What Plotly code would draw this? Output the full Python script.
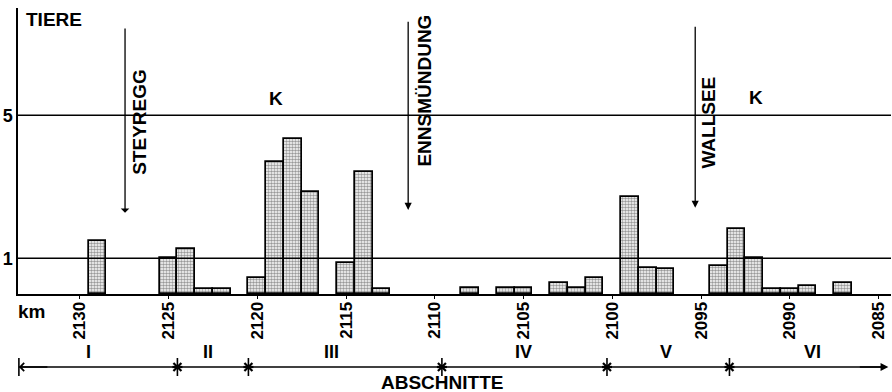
import plotly.graph_objects as go

# ---- data ----
km = [2129, 2125, 2124, 2123, 2122, 2120, 2119, 2118, 2117, 2115, 2114, 2113,
      2108, 2106, 2105, 2103, 2102, 2101, 2099, 2098, 2097, 2094, 2093, 2092,
      2091, 2090, 2089, 2087]
tiere = [1.47, 1.0, 1.25, 0.13, 0.13, 0.46, 3.69, 4.34, 2.85, 0.88, 3.41, 0.15,
         0.18, 0.18, 0.18, 0.32, 0.18, 0.46, 2.71, 0.74, 0.69, 0.77, 1.81, 1.0,
         0.15, 0.15, 0.21, 0.32]
km_ticks = [2130, 2125, 2120, 2115, 2110, 2105, 2100, 2095, 2090, 2085]
y_ticks = [1, 5]
# places: (name, km, arrow top, arrow tip, label centre km, label centre y, head)
places = [("STEYREGG", 2127.45, 7.47, 2.27, 2126.6, 4.82, 1),
          ("ENNSMÜNDUNG", 2111.5, 7.66, 2.35, 2110.55, 5.69, 2),
          ("WALLSEE", 2095.33, 7.52, 2.41, 2094.6, 4.80, 2)]
k_labels = [(2118.93, 5.46), (2091.9, 5.49)]
section_bounds = [2124.5, 2120.5, 2109.6, 2100.3, 2093.4]
section_names = ["I", "II", "III", "IV", "V", "VI"]
section_label_km = [2129.5, 2122.8, 2115.8, 2105.0, 2097.0, 2088.7]
x_range = [2133.48, 2084.3]

FONT = "Liberation Sans"
W, H = 892, 392
ML, MR, MT, MB = 18, 1, 8, 98
ph = H - MT - MB
Y_MAX = 8.0


def py(pix):
    """pixel row -> paper y"""
    return (H - MB - pix) / ph


fig = go.Figure()
fig.add_trace(go.Bar(
    x=km, y=tiere, width=1.0,
    marker=dict(color="white",
                line=dict(color="black", width=1.7),
                pattern=dict(shape=".", size=3, solidity=0.55,
                             fgcolor="#333", bgcolor="white")),
    showlegend=False, hoverinfo="skip"))

shapes = []
for v in y_ticks:
    shapes.append(dict(type="line", xref="paper", yref="y", x0=0, x1=1,
                       y0=v, y1=v, layer="above",
                       line=dict(color="black", width=1.4)))
# Abschnitte line
SEC_Y = py(367)
shapes.append(dict(type="line", xref="x", yref="paper", x0=x_range[0] - 0.05,
                   x1=2084.6, y0=SEC_Y, y1=SEC_Y,
                   line=dict(color="black", width=1.3)))
shapes.append(dict(type="line", xref="x", yref="paper", x0=x_range[0] - 0.05,
                   x1=x_range[0] - 0.05, y0=py(358), y1=py(376),
                   line=dict(color="black", width=1.6)))
# section boundary marks: vertical tick + asterisk
for b in section_bounds:
    for (dx0, dy0, dx1, dy1, w) in [(0, -9, 0, 9, 1.6), (-4, -4, 4, 4, 2.2),
                                    (-4, 4, 4, -4, 2.2), (-5, 0, 5, 0, 2.2)]:
        shapes.append(dict(type="line", xref="x", yref="paper",
                           xsizemode="pixel", ysizemode="pixel",
                           xanchor=b, yanchor=SEC_Y,
                           x0=dx0, x1=dx1, y0=dy0, y1=dy1,
                           line=dict(color="black", width=w)))

ann = []
for name, xk, top, tip, lx, ly, head in places:
    ann.append(dict(x=xk, y=tip, ax=xk, ay=top, xref="x", yref="y",
                    axref="x", ayref="y", text="", showarrow=True,
                    arrowhead=head, arrowsize=1.1, arrowwidth=1.3,
                    arrowcolor="black", standoff=0))
    ann.append(dict(x=lx, y=ly, xref="x", yref="y", text=name,
                    textangle=-90, showarrow=False, xanchor="center",
                    yanchor="middle",
                    font=dict(family=FONT, size=19, color="black", weight=700)))
for kx, ky in k_labels:
    ann.append(dict(x=kx, y=ky, xref="x", yref="y", text="K", showarrow=False,
                    font=dict(family=FONT, size=19, color="black", weight=700)))
for name, sx in zip(section_names, section_label_km):
    ann.append(dict(x=sx, y=py(352), xref="x", yref="paper", text=name,
                    showarrow=False, yanchor="middle",
                    font=dict(family=FONT, size=18, color="black", weight=700)))
ann.append(dict(x=section_bounds[2], y=py(382), xref="x", yref="paper",
                text="ABSCHNITTE", showarrow=False, yanchor="middle",
                font=dict(family=FONT, size=19, color="black", weight=700)))
ann.append(dict(x=0, y=py(311), xref="paper", yref="paper", text="km",
                showarrow=False, xanchor="left", yanchor="middle", xshift=-2,
                font=dict(family=FONT, size=19, color="black", weight=700)))
ann.append(dict(x=0, y=py(19.5), xref="paper", yref="paper", text="TIERE",
                showarrow=False, xanchor="left", yanchor="middle", xshift=6,
                font=dict(family=FONT, size=19, color="black", weight=700)))
# arrowheads of the Abschnitte line
ann.append(dict(x=x_range[0] - 0.05, y=SEC_Y, xref="x", yref="paper",
                ax=30, ay=0, text="", showarrow=True, arrowhead=4,
                arrowsize=1.2, arrowwidth=1.3, arrowcolor="black", standoff=0))
ann.append(dict(x=2084.45, y=SEC_Y, xref="x", yref="paper",
                ax=-30, ay=0, text="", showarrow=True, arrowhead=2,
                arrowsize=1.2, arrowwidth=1.3, arrowcolor="black", standoff=0))

fig.update_layout(
    width=W, height=H, margin=dict(l=ML, r=MR, t=MT, b=MB),
    paper_bgcolor="white", plot_bgcolor="white", bargap=0,
    shapes=shapes, annotations=ann,
    font=dict(family=FONT, size=18, color="black"),
    xaxis=dict(range=x_range, tickvals=km_ticks, tickangle=-90,
               showgrid=False, zeroline=False, showline=True,
               linecolor="black", linewidth=2, ticks="outside", ticklen=3,
               tickcolor="black", ticklabelstandoff=-4,
               tickfont=dict(family=FONT, size=17, color="black", weight=700)),
    yaxis=dict(range=[0, Y_MAX], tickvals=y_ticks, showgrid=False,
               zeroline=False, showline=True, linecolor="black", linewidth=1.5,
               ticks="", ticklabelstandoff=0,
               tickfont=dict(family=FONT, size=18, color="black", weight=700)),
)

fig.write_html("out.html")
